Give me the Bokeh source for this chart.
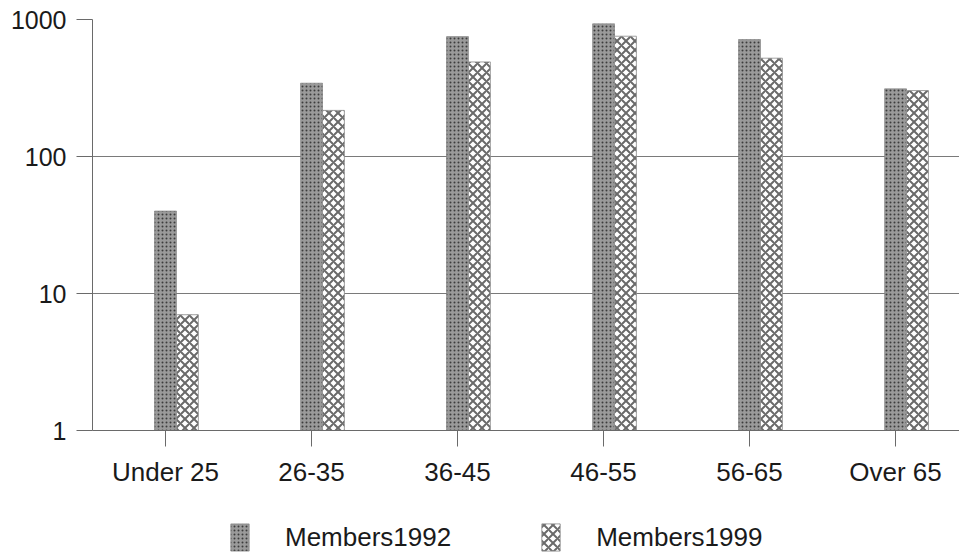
from bokeh.plotting import figure
from bokeh.layouts import column
from bokeh.models import (ColumnDataSource, FixedTicker, NumeralTickFormatter,
                          Range1d, Legend, LegendItem)
from bokeh.embed import file_html
from bokeh.resources import INLINE

# Membership by age group, log scale
categories = ["Under 25", "26-35", "36-45", "46-55", "56-65", "Over 65"]
members_1992 = [40, 343, 750, 930, 714, 312]
members_1999 = [7, 217, 490, 755, 522, 303]
series_names = ["Members1992", "Members1999"]
y_ticks = [1, 10, 100, 1000]

FONT = "Liberation Sans"
BAR_W = 0.15

STYLE_92 = dict(fill_color="#9a9a9a", line_color="#7a7a7a", line_width=0.6,
                hatch_pattern="dot", hatch_color="#3c3c3c", hatch_scale=4,
                hatch_weight=1)
STYLE_99 = dict(fill_color="white", line_color="#8a8a8a", line_width=0.8,
                hatch_pattern="diagonal_cross", hatch_color="#6a6a6a",
                hatch_scale=9, hatch_weight=2)

xs = list(range(len(categories)))
src92 = ColumnDataSource(dict(x=xs, top=members_1992))
src99 = ColumnDataSource(dict(x=[v + BAR_W for v in xs], top=members_1999))

p = figure(width=959, height=496, y_axis_type="log",
           x_range=Range1d(-0.5, 5.438), y_range=Range1d(1, 1000),
           output_backend="svg", toolbar_location=None,
           min_border_left=92, min_border_right=0, min_border_top=19,
           min_border_bottom=66)
p.outline_line_color = None
p.background_fill_color = "white"
p.border_fill_color = "white"

p.vbar(x="x", top="top", bottom=1, width=BAR_W, source=src92, **STYLE_92)
p.vbar(x="x", top="top", bottom=1, width=BAR_W, source=src99, **STYLE_99)

# axes
p.xaxis.ticker = FixedTicker(ticks=xs)
p.xaxis.major_label_overrides = {i: c for i, c in enumerate(categories)}
p.yaxis.ticker = FixedTicker(ticks=y_ticks)
p.yaxis.formatter = NumeralTickFormatter(format="0")
for ax in (p.xaxis, p.yaxis):
    ax.axis_line_color = "#6a6a6a"
    ax.major_tick_line_color = "#6a6a6a"
    ax.major_tick_out = 16
    ax.major_tick_in = 0
    ax.minor_tick_line_color = None
    ax.major_label_text_font = FONT
    ax.major_label_text_color = "#1a1a1a"
p.xaxis.major_label_text_font_size = "26px"
p.yaxis.major_label_text_font_size = "25px"
p.xaxis.major_label_standoff = 10
p.yaxis.major_label_standoff = 10

p.xgrid.grid_line_color = None
p.ygrid.grid_line_color = "#7a7a7a"
p.ygrid.grid_line_width = 1
p.ygrid.minor_grid_line_color = None

# legend strip underneath the chart; its key bars sit outside the visible range
# (the column aligns this strip's frame with the chart frame, 92px in)
leg = figure(width=959, height=60, x_range=Range1d(0, 1), y_range=Range1d(0, 1),
             output_backend="svg", toolbar_location=None,
             min_border_left=0, min_border_right=0, min_border_top=0,
             min_border_bottom=0)
leg.axis.visible = False
leg.grid.visible = False
leg.outline_line_color = None
k92 = leg.vbar(x=[5], top=[1], width=0.1, **STYLE_92)
k99 = leg.vbar(x=[5], top=[1], width=0.1, **STYLE_99)

legend = Legend(items=[LegendItem(label=series_names[0], renderers=[k92]),
                       LegendItem(label=series_names[1], renderers=[k99])],
                location=(136, 2), orientation="horizontal",
                glyph_width=23, glyph_height=34, label_standoff=34,
                spacing=88, padding=0, margin=0,
                border_line_color=None, background_fill_alpha=0,
                label_text_font=FONT, label_text_font_size="26px",
                label_text_color="#1a1a1a")
leg.add_layout(legend)

layout = column(p, leg, spacing=0)
open("out.html", "w").write(file_html(layout, INLINE))
